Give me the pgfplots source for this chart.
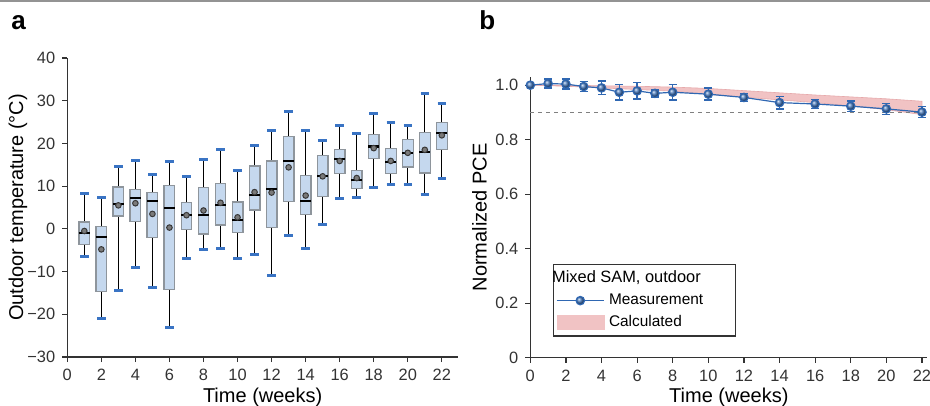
\documentclass[border=0pt]{standalone}
\usepackage{pgfplots}
\pgfplotsset{compat=1.18}
\usepgfplotslibrary{statistics}
\usepackage{fontspec}
\setmainfont{Liberation Sans}
\definecolor{boxblue}{HTML}{C5D8EE}
\definecolor{boxgray}{HTML}{8E959C}
\definecolor{capblue}{HTML}{3A74C4}
\definecolor{meanfill}{HTML}{7A7A7A}
\definecolor{meandraw}{HTML}{383838}
\definecolor{measblue}{HTML}{2F67B2}
\definecolor{calcred}{HTML}{F1C3C4}
\definecolor{calcedge}{HTML}{E6A9AB}
\definecolor{axisgray}{HTML}{333333}
\pgfplotsset{
  common/.style={
    scale only axis, anchor=south west, clip=false,
    axis lines=left, axis line style={-, line width=0.7pt, color=axisgray},
    tick align=outside, major tick length=2.5pt,
    tick style={line width=0.6pt, color=axisgray},
    ticklabel style={font=\fontsize{8.2}{9}\selectfont, text=axisgray},
    /pgf/number format/assume math mode=true,
    label style={font=\fontsize{8.6}{10}\selectfont, text=black},
  },
  tbox/.style={fill=boxblue, draw=boxgray, line width=0.6pt,
    boxplot/draw direction=y,
    boxplot/box extend=0.63, boxplot/whisker extend=0.5},
  measleg/.style={legend image code/.code={\draw[##1, mark=none] (0cm,0cm) -- (0.83cm,0cm); \draw[##1] plot coordinates {(0.415cm,0cm)};}},
  calcleg/.style={legend image code/.code={\fill[##1] (0cm,-0.13cm) rectangle (0.85cm,0.13cm);}},
}
\begin{document}
\begin{tikzpicture}
\useasboundingbox (0,0) rectangle (465pt,-203pt);
\draw[line width=1.1pt, color=gray!85] (0,-0.55pt) -- (465pt,-0.55pt);
\node[anchor=base west, inner sep=0pt, font=\bfseries\fontsize{13}{14}\selectfont] at (5.5pt,-15pt) {a};
\node[anchor=base west, inner sep=0pt, font=\bfseries\fontsize{13}{14}\selectfont] at (239.5pt,-15pt) {b};

\begin{axis}[common,
  at={(33.65pt,-178.5pt)},
  width=195.35pt, height=149.5pt,
  xmin=0, xmax=22.95, ymin=-30, ymax=40,
  xtick={0,2,...,22}, ytick={-30,-20,-10,0,10,20,30,40},
  yticklabels={−30,−20,−10,0,10,20,30,40},
  xlabel={Time (weeks)}, ylabel={Outdoor temperature (°C)},
  every axis x label/.style={at={(axis description cs:0.5,-0.134)}, anchor=center},
  every axis y label/.style={at={(axis description cs:-0.126,0.5)}, rotate=90, anchor=center},
  boxplot/draw/lower whisker/.code={
    \draw[black, line width=0.6pt] (boxplot box cs:\pgfplotsboxplotvalue{lower whisker},0.5) -- (boxplot box cs:\pgfplotsboxplotvalue{lower quartile},0.5);
    \draw[capblue, line width=1.5pt] (boxplot whisker cs:\pgfplotsboxplotvalue{lower whisker},0) -- (boxplot whisker cs:\pgfplotsboxplotvalue{lower whisker},1);
  },
  boxplot/draw/upper whisker/.code={
    \draw[black, line width=0.6pt] (boxplot box cs:\pgfplotsboxplotvalue{upper whisker},0.5) -- (boxplot box cs:\pgfplotsboxplotvalue{upper quartile},0.5);
    \draw[capblue, line width=1.5pt] (boxplot whisker cs:\pgfplotsboxplotvalue{upper whisker},0) -- (boxplot whisker cs:\pgfplotsboxplotvalue{upper whisker},1);
  },
  boxplot/draw/median/.code={
    \draw[black, line width=1.1pt] (boxplot box cs:\pgfplotsboxplotvalue{median},0) -- (boxplot box cs:\pgfplotsboxplotvalue{median},1);
  },
  boxplot/draw/average/.code={
    \filldraw[fill=meanfill, draw=meandraw, line width=0.5pt] (boxplot box cs:\pgfplotsboxplotvalue{average},0.5) circle[radius=1.4pt];
  },
]
\addplot[tbox, boxplot prepared={draw position=1, lower whisker=-6.5, lower quartile=-3.7, median=-0.9, upper quartile=1.6, upper whisker=8.3, average=-0.5}] coordinates {};
\addplot[tbox, boxplot prepared={draw position=2, lower whisker=-21.1, lower quartile=-14.7, median=-1.9, upper quartile=0.5, upper whisker=7.3, average=-4.8}] coordinates {};
\addplot[tbox, boxplot prepared={draw position=3, lower whisker=-14.5, lower quartile=3.0, median=5.8, upper quartile=9.8, upper whisker=14.7, average=5.5}] coordinates {};
\addplot[tbox, boxplot prepared={draw position=4, lower whisker=-9.0, lower quartile=1.7, median=7.2, upper quartile=9.3, upper whisker=16.1, average=6.0}] coordinates {};
\addplot[tbox, boxplot prepared={draw position=5, lower whisker=-13.8, lower quartile=-2.1, median=6.6, upper quartile=8.5, upper whisker=12.8, average=3.5}] coordinates {};
\addplot[tbox, boxplot prepared={draw position=6, lower whisker=-23.0, lower quartile=-14.2, median=4.8, upper quartile=10.1, upper whisker=15.7, average=0.3}] coordinates {};
\addplot[tbox, boxplot prepared={draw position=7, lower whisker=-7.0, lower quartile=-0.2, median=3.2, upper quartile=6.1, upper whisker=12.3, average=3.2}] coordinates {};
\addplot[tbox, boxplot prepared={draw position=8, lower whisker=-4.9, lower quartile=-1.2, median=3.3, upper quartile=9.7, upper whisker=16.3, average=4.3}] coordinates {};
\addplot[tbox, boxplot prepared={draw position=9, lower whisker=-4.7, lower quartile=0.9, median=5.5, upper quartile=10.7, upper whisker=18.5, average=6.1}] coordinates {};
\addplot[tbox, boxplot prepared={draw position=10, lower whisker=-6.9, lower quartile=-0.8, median=2.0, upper quartile=6.3, upper whisker=13.6, average=2.7}] coordinates {};
\addplot[tbox, boxplot prepared={draw position=11, lower whisker=-6.1, lower quartile=4.4, median=7.9, upper quartile=14.7, upper whisker=19.6, average=8.6}] coordinates {};
\addplot[tbox, boxplot prepared={draw position=12, lower whisker=-11.0, lower quartile=0.4, median=9.4, upper quartile=15.9, upper whisker=23.0, average=8.5}] coordinates {};
\addplot[tbox, boxplot prepared={draw position=13, lower whisker=-1.6, lower quartile=6.5, median=15.8, upper quartile=21.7, upper whisker=27.5, average=14.4}] coordinates {};
\addplot[tbox, boxplot prepared={draw position=14, lower whisker=-4.7, lower quartile=3.4, median=6.5, upper quartile=12.4, upper whisker=23.1, average=7.8}] coordinates {};
\addplot[tbox, boxplot prepared={draw position=15, lower whisker=1.1, lower quartile=7.6, median=12.4, upper quartile=17.1, upper whisker=20.7, average=12.3}] coordinates {};
\addplot[tbox, boxplot prepared={draw position=16, lower whisker=7.2, lower quartile=13.0, median=16.4, upper quartile=18.6, upper whisker=24.1, average=15.9}] coordinates {};
\addplot[tbox, boxplot prepared={draw position=17, lower whisker=7.4, lower quartile=9.4, median=11.4, upper quartile=13.6, upper whisker=22.4, average=11.9}] coordinates {};
\addplot[tbox, boxplot prepared={draw position=18, lower whisker=9.6, lower quartile=16.4, median=19.3, upper quartile=22.1, upper whisker=26.9, average=18.9}] coordinates {};
\addplot[tbox, boxplot prepared={draw position=19, lower whisker=10.4, lower quartile=12.9, median=15.6, upper quartile=18.9, upper whisker=24.9, average=15.9}] coordinates {};
\addplot[tbox, boxplot prepared={draw position=20, lower whisker=10.4, lower quartile=14.5, median=17.8, upper quartile=21.0, upper whisker=24.2, average=17.8}] coordinates {};
\addplot[tbox, boxplot prepared={draw position=21, lower whisker=8.0, lower quartile=13.1, median=18.0, upper quartile=22.6, upper whisker=31.8, average=18.5}] coordinates {};
\addplot[tbox, boxplot prepared={draw position=22, lower whisker=11.7, lower quartile=18.5, median=22.4, upper quartile=24.9, upper whisker=29.3, average=21.9}] coordinates {};
\end{axis}

\begin{axis}[common,
  at={(265.15pt,-178.85pt)},
  width=198.5pt, height=140.35pt,
  xmin=0, xmax=22.3, ymin=0, ymax=1.03,
  xtick={0,2,...,22}, ytick={0,0.2,0.4,0.6,0.8,1},
  yticklabels={0,0.2,0.4,0.6,0.8,1.0},
  xlabel={Time (weeks)}, ylabel={Normalized PCE},
  every axis x label/.style={at={(axis description cs:0.5,-0.14)}, anchor=center},
  every axis y label/.style={at={(axis description cs:-0.128,0.5)}, rotate=90, anchor=center},
  legend style={at={(axis cs:1.28,0.344)}, anchor=north west, draw=axisgray, line width=0.6pt,
    font=\fontsize{7.7}{9}\selectfont, cells={anchor=west}, inner sep=1.2pt, row sep=0pt},
]
\addplot[forget plot, fill=calcred, draw=calcedge, line width=0.3pt] coordinates {
(0,1.000)(2,1.000)(4,0.998)(6,0.996)(8,0.993)(10,0.988)(12,0.980)(14,0.972)(16,0.964)(18,0.957)(20,0.950)(22,0.941)
(22,0.892)(20,0.910)(18,0.924)(16,0.936)(14,0.946)(12,0.956)(10,0.966)(8,0.978)(6,0.984)(4,0.990)(2,0.996)(0,1.000)} -- cycle;
\addplot[forget plot, gray, line width=0.7pt, dash pattern=on 2pt off 2pt] coordinates {(0,0.9)(22,0.9)};
\addplot[forget plot, measblue, line width=0.6pt, mark=ball, mark size=2.1pt, mark options={ball color=measblue!90!white},
  error bars/.cd, y dir=both, y explicit, error bar style={measblue, line width=0.7pt},
  error mark options={rotate=90, measblue, mark size=2pt, line width=0.7pt}]
  table[x=x, y=y, y error=e] {
x y e
0 1.000 0.000
1 1.006 0.016
2 1.004 0.018
3 0.995 0.018
4 0.990 0.025
5 0.974 0.028
6 0.979 0.030
7 0.970 0.013
8 0.974 0.028
10 0.967 0.022
12 0.955 0.015
14 0.936 0.023
16 0.931 0.016
18 0.923 0.019
20 0.913 0.020
22 0.901 0.020
};
\addlegendimage{empty legend}
\addlegendentry{\hspace*{-1.0cm}\fontsize{8.2}{9}\selectfont Mixed SAM, outdoor}
\addlegendimage{measleg, measblue, line width=0.6pt, mark=ball, mark size=2.1pt, mark options={ball color=measblue!90!white}}
\addlegendentry{Measurement\hspace*{13pt}\mbox{}}
\addlegendimage{calcleg, fill=calcred, draw=none}
\addlegendentry{Calculated}
\end{axis}
\end{tikzpicture}
\end{document}
